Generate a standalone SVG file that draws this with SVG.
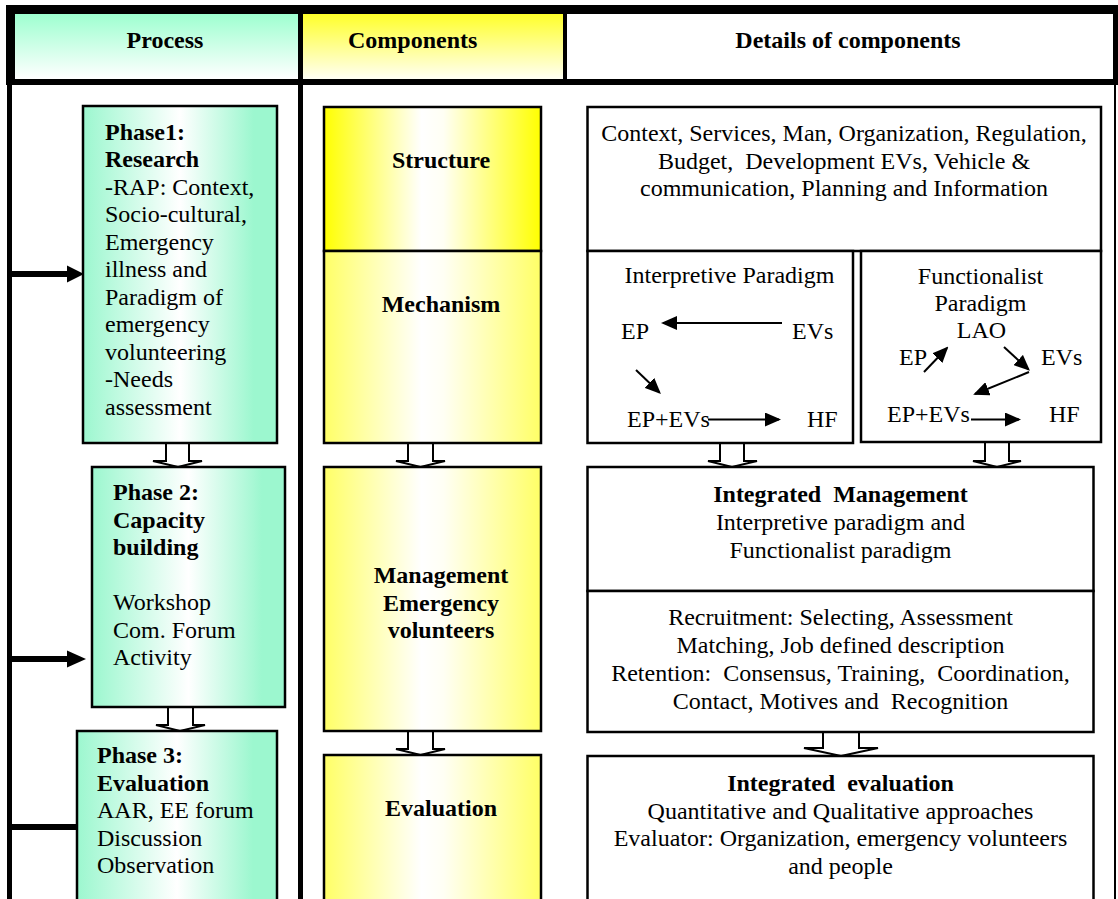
<svg xmlns="http://www.w3.org/2000/svg" width="1118" height="899" viewBox="0 0 1118 899">
  <style>
    .t { font-family: "Liberation Serif", "Times New Roman", serif; font-size: 24px; fill: #000; }
    .b { font-weight: bold; }
    .m { text-anchor: middle; }
    .box { stroke: #000; stroke-width: 2.5; }
    .blk { fill: #fff; stroke: #000; stroke-width: 2; stroke-linejoin: miter; }
    .rule { stroke: #000; fill: none; }
    .ar { stroke: #000; stroke-width: 2; fill: none; marker-end: url(#head); }
  </style>
  <defs>
    <linearGradient id="hdrGreen" x1="0" y1="0" x2="0" y2="1">
      <stop offset="0" stop-color="#9EFFD0"/>
      <stop offset="1" stop-color="#FFFFFF"/>
    </linearGradient>
    <linearGradient id="hdrYellow" x1="0" y1="0" x2="0" y2="1">
      <stop offset="0" stop-color="#FFFF2A"/>
      <stop offset="1" stop-color="#FFFFF4"/>
    </linearGradient>
    <linearGradient id="green" x1="0" y1="0" x2="1" y2="0">
      <stop offset="0" stop-color="#9CF7CF"/>
      <stop offset="0.5" stop-color="#FFFFFF"/>
      <stop offset="0.88" stop-color="#9CF7CF"/>
      <stop offset="1" stop-color="#9CF7CF"/>
    </linearGradient>
    <linearGradient id="yellow" x1="0" y1="0" x2="1" y2="0">
      <stop offset="0" stop-color="#FFFF00"/>
      <stop offset="0.45" stop-color="#FFFFFF"/>
      <stop offset="0.55" stop-color="#FFFFF4"/>
      <stop offset="1" stop-color="#FFFF00"/>
    </linearGradient>
    <linearGradient id="paleYellow" x1="0" y1="0" x2="1" y2="0">
      <stop offset="0" stop-color="#FFFF66"/>
      <stop offset="0.45" stop-color="#FFFFFF"/>
      <stop offset="0.55" stop-color="#FFFFF4"/>
      <stop offset="1" stop-color="#FFFF66"/>
    </linearGradient>
    <marker id="head" viewBox="0 0 16 14" markerUnits="userSpaceOnUse" markerWidth="16" markerHeight="14" refX="14" refY="7" orient="auto">
      <path d="M0,0 L16,7 L0,14 z" fill="#000"/>
    </marker>
  </defs>

  <rect width="1118" height="899" fill="#fff"/>

  <!-- header row -->
  <g id="header">
    <rect x="6" y="5" width="1112" height="80" fill="#000"/>
    <rect x="15" y="14" width="283" height="65" fill="url(#hdrGreen)"/>
    <rect x="303" y="14" width="260" height="65" fill="url(#hdrYellow)"/>
    <rect x="567" y="14" width="546" height="65" fill="#fff"/>
    <text class="t b m" x="165" y="48">Process</text>
    <text class="t b" x="348" y="48">Components</text>
    <text class="t b m" x="848" y="48">Details of components</text>
  </g>

  <!-- column rules of the body -->
  <g id="rules">
    <line class="rule" x1="9.5" y1="85" x2="9.5" y2="899" stroke-width="5"/>
    <line class="rule" x1="300.5" y1="85" x2="300.5" y2="899" stroke-width="5"/>
    <line class="rule" x1="1115" y1="85" x2="1115" y2="899" stroke-width="2"/>
  </g>

  <!-- connectors: feed lines from the process rule and hollow down arrows -->
  <g id="connectors">
    <line x1="12" y1="274" x2="68" y2="274" stroke="#000" stroke-width="6"/>
    <polygon points="67,265.5 84,274 67,282.5" fill="#000"/>
    <line x1="12" y1="659" x2="68" y2="659" stroke="#000" stroke-width="6"/>
    <polygon points="67,650.5 86,659 67,667.5" fill="#000"/>
    <line x1="12" y1="827" x2="77" y2="827" stroke="#000" stroke-width="6"/>

    <polygon class="blk" points="166,443 166,461 153,461 178,467 202,461 189,461 189,443"/>
    <polygon class="blk" points="168,707 168,725 156,725 180,731 205,725 193,725 193,707"/>
    <polygon class="blk" points="408,443 408,461 396,461 420.5,467 445,461 433,461 433,443"/>
    <polygon class="blk" points="408,731 408,749 396,749 420.5,755 445,749 433,749 433,731"/>
    <polygon class="blk" points="720,443 720,461 708,461 732,467 757,461 744,461 744,443"/>
    <polygon class="blk" points="985,442 985,461 973,461 997,467 1021,461 1009,461 1009,442"/>
    <polygon class="blk" points="823,732 823,748 804,748 841,756 878,748 859,748 859,732"/>
  </g>

  <!-- process column -->
  <g id="phase1">
    <rect class="box" x="83" y="106" width="194" height="337" fill="url(#green)"/>
    <text class="t b" x="105" y="140">Phase1:</text>
    <text class="t b" x="105" y="167">Research</text>
    <text class="t" x="105" y="194.5">-RAP: Context,</text>
    <text class="t" x="105" y="222">Socio-cultural,</text>
    <text class="t" x="105" y="249.5">Emergency</text>
    <text class="t" x="105" y="277">illness and</text>
    <text class="t" x="105" y="304.5">Paradigm of</text>
    <text class="t" x="105" y="332">emergency</text>
    <text class="t" x="105" y="359.5">volunteering</text>
    <text class="t" x="105" y="387">-Needs</text>
    <text class="t" x="105" y="414.5">assessment</text>
  </g>
  <g id="phase2">
    <rect class="box" x="92" y="467" width="193" height="240" fill="url(#green)"/>
    <text class="t b" x="113" y="500">Phase 2:</text>
    <text class="t b" x="113" y="527.5">Capacity</text>
    <text class="t b" x="113" y="555">building</text>
    <text class="t" x="113" y="610">Workshop</text>
    <text class="t" x="113" y="637.5">Com. Forum</text>
    <text class="t" x="113" y="665">Activity</text>
  </g>
  <g id="phase3">
    <rect class="box" x="77" y="731" width="200" height="190" fill="url(#green)"/>
    <text class="t b" x="97" y="763">Phase 3:</text>
    <text class="t b" x="97" y="790.5">Evaluation</text>
    <text class="t" x="97" y="818">AAR, EE forum</text>
    <text class="t" x="97" y="845.5">Discussion</text>
    <text class="t" x="97" y="873">Observation</text>
  </g>

  <!-- components column -->
  <g id="structure">
    <rect class="box" x="324" y="107" width="217" height="144" fill="url(#yellow)"/>
    <text class="t b m" x="441" y="168">Structure</text>
  </g>
  <g id="mechanism">
    <rect class="box" x="324" y="251" width="217" height="192" fill="url(#paleYellow)"/>
    <text class="t b m" x="441" y="312">Mechanism</text>
  </g>
  <g id="management">
    <rect class="box" x="324" y="467" width="217" height="264" fill="url(#paleYellow)"/>
    <text class="t b m" x="441" y="583">Management</text>
    <text class="t b m" x="441" y="610.5">Emergency</text>
    <text class="t b m" x="441" y="638">volunteers</text>
  </g>
  <g id="evaluation">
    <rect class="box" x="324" y="755" width="217" height="170" fill="url(#paleYellow)"/>
    <text class="t b m" x="441" y="816">Evaluation</text>
  </g>

  <!-- details column -->
  <g id="structure-details">
    <rect class="box" x="587.5" y="107" width="513.5" height="144" fill="#fff"/>
    <text class="t m" x="844" y="141">Context, Services, Man, Organization, Regulation,</text>
    <text class="t m" x="844" y="168.5" xml:space="preserve">Budget,  Development EVs, Vehicle &amp;</text>
    <text class="t m" x="844" y="196">communication, Planning and Information</text>
  </g>
  <g id="interpretive">
    <rect class="box" x="587.5" y="251" width="265.5" height="192" fill="#fff"/>
    <text class="t m" x="729.5" y="282.5">Interpretive Paradigm</text>
    <text class="t" x="621" y="339">EP</text>
    <text class="t" x="792" y="339">EVs</text>
    <text class="t" x="627" y="427">EP+EVs</text>
    <text class="t" x="807" y="427">HF</text>
    <line class="ar" x1="782" y1="323" x2="663" y2="323"/>
    <line class="ar" x1="636" y1="370" x2="659.5" y2="392.5"/>
    <line class="ar" x1="708" y1="419.5" x2="779" y2="419.5"/>
  </g>
  <g id="functionalist">
    <rect class="box" x="861" y="251" width="240" height="191" fill="#fff"/>
    <text class="t m" x="980.5" y="283.5">Functionalist</text>
    <text class="t m" x="980.5" y="310.5">Paradigm</text>
    <text class="t m" x="981.5" y="337.5">LAO</text>
    <text class="t" x="899" y="365">EP</text>
    <text class="t" x="1041" y="365">EVs</text>
    <text class="t" x="887" y="422">EP+EVs</text>
    <text class="t" x="1049" y="422">HF</text>
    <line class="ar" x1="924" y1="372" x2="947" y2="348"/>
    <line class="ar" x1="1004" y1="347" x2="1028.5" y2="369.5"/>
    <line class="ar" x1="1029" y1="372" x2="975" y2="394"/>
    <line class="ar" x1="971" y1="419.5" x2="1019" y2="419.5"/>
  </g>
  <g id="integrated-management">
    <rect class="box" x="587.5" y="467" width="506" height="124" fill="#fff"/>
    <text class="t b m" x="840.5" y="502" xml:space="preserve">Integrated  Management</text>
    <text class="t m" x="840.5" y="530">Interpretive paradigm and</text>
    <text class="t m" x="840.5" y="558">Functionalist paradigm</text>
  </g>
  <g id="recruitment-retention">
    <rect class="box" x="587.5" y="591" width="506" height="141" fill="#fff"/>
    <text class="t m" x="840.5" y="625">Recruitment: Selecting, Assessment</text>
    <text class="t m" x="840.5" y="652.5">Matching, Job defined description</text>
    <text class="t m" x="840.5" y="680.5" xml:space="preserve">Retention:  Consensus, Training,  Coordination,</text>
    <text class="t m" x="840.5" y="709" xml:space="preserve">Contact, Motives and  Recognition</text>
  </g>
  <g id="integrated-evaluation">
    <rect class="box" x="587.5" y="756" width="506" height="170" fill="#fff"/>
    <text class="t b m" x="840.5" y="791" xml:space="preserve">Integrated  evaluation</text>
    <text class="t m" x="840.5" y="818.5">Quantitative and Qualitative approaches</text>
    <text class="t m" x="840.5" y="846">Evaluator: Organization, emergency volunteers</text>
    <text class="t m" x="840.5" y="873.5">and people</text>
  </g>
</svg>
